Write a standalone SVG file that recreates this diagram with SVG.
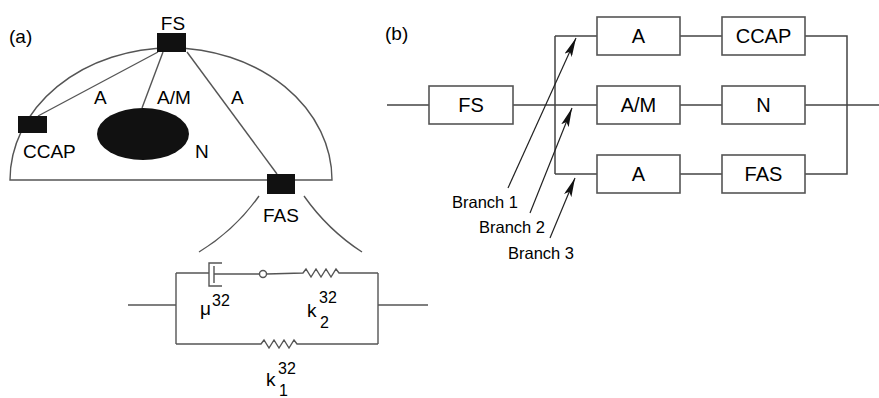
<svg xmlns="http://www.w3.org/2000/svg" width="879" height="398" viewBox="0 0 879 398">
<style>
text{font-family:"Liberation Sans",Arial,sans-serif;fill:#000}
.lab{font-size:19px}
.bl{font-size:20px}
.br{font-size:16.5px}
.sup{font-size:16px}
.w{fill:none;stroke:#555;stroke-width:1.4}
.wb{fill:none;stroke:#444;stroke-width:1.5}
.ar{fill:none;stroke:#222;stroke-width:1.2}
.box{fill:#fff;stroke:#555;stroke-width:1.6}
.blk{fill:#111}
</style>
<defs>
<marker id="ah" viewBox="0 0 19 8" refX="19" refY="4" markerWidth="19" markerHeight="8" markerUnits="userSpaceOnUse" orient="auto">
<path d="M0,0 L19,4 L0,8 L4,4 Z" fill="#111"/>
</marker>
</defs>
<rect width="879" height="398" fill="#fff"/>

<!-- Panel (a) -->
<text x="9" y="43" class="lab">(a)</text>
<g id="connectors-a">
<path class="w" d="M10,180 A161,132 0 0 1 332,180 Z"/>
<line class="w" x1="158" y1="52" x2="38" y2="116"/>
<line class="w" x1="163" y1="52" x2="142" y2="108"/>
<line class="w" x1="187" y1="52" x2="277" y2="174"/>
<path class="w" d="M259,196 Q235,230 199,252"/>
<path class="w" d="M304,196 Q328,230 362,252"/>
<text x="94" y="104" class="lab">A</text>
<text x="157" y="104" class="lab">A/M</text>
<text x="231" y="104" class="lab">A</text>
</g>
<g id="a-FS"><rect class="blk" x="157" y="33" width="29" height="19"/><text x="173" y="30" class="lab" text-anchor="middle">FS</text></g>
<g id="a-CCAP"><rect class="blk" x="18" y="116" width="29" height="17"/><text x="23" y="158" class="lab">CCAP</text></g>
<g id="a-N"><ellipse class="blk" cx="143" cy="134" rx="46" ry="26"/><text x="195" y="158" class="lab">N</text></g>
<g id="a-FAS"><rect class="blk" x="267" y="174" width="28" height="20"/><text x="281" y="222" class="lab" text-anchor="middle">FAS</text></g>

<!-- circuit -->
<g id="circuit">
<path class="w" d="M128,305 H176 M176,273 V344 M378,273 V344 M378,305 H428"/>
<path class="w" d="M176,273 H209 M222,263 H209 V286 H222 M214,266 V283 M214,274 H259.5"/>
<circle class="w" cx="263" cy="274" r="3.5"/>
<path class="w" d="M266.5,274 L303,273 l3,-4 l5,8 l5,-8 l5,8 l5,-8 l5,8 l5,-8 l3,4 H378"/>
<path class="w" d="M176,344 H261 l3,-4 l5,8 l5,-8 l5,8 l5,-8 l5,8 l5,-8 l3,4 H378"/>
<text x="200" y="315" class="lab">μ</text><text x="212" y="306" class="sup">32</text>
<text x="307" y="317" class="lab">k</text><text x="319" y="303" class="sup">32</text><text x="320" y="328" class="sup">2</text>
<text x="266" y="386" class="lab">k</text><text x="278" y="374" class="sup">32</text><text x="279" y="396" class="sup">1</text>
</g>

<!-- Panel (b) -->
<text x="385" y="40" class="lab">(b)</text>
<g id="connectors-b">
<path class="wb" d="M387,105 H429 M513,105 H597 M555,36 V174 M555,36 H597 M555,174 H597 M680,36 H722 M680,105 H722 M680,174 H722 M805,36 H847 V174 H805 M805,105 H879"/>
<line class="ar" x1="508" y1="188" x2="576" y2="38" marker-end="url(#ah)"/>
<line class="ar" x1="530" y1="213" x2="572" y2="108" marker-end="url(#ah)"/>
<line class="ar" x1="550" y1="238" x2="575" y2="178" marker-end="url(#ah)"/>
<text x="452" y="208" class="br">Branch 1</text>
<text x="479" y="233" class="br">Branch 2</text>
<text x="508" y="259" class="br">Branch 3</text>
</g>
<g id="b-FS"><rect class="box" x="429" y="86" width="84" height="38"/><text x="471" y="112" class="bl" text-anchor="middle">FS</text></g>
<g id="b-A1"><rect class="box" x="597" y="17" width="83" height="38"/><text x="638.5" y="43" class="bl" text-anchor="middle">A</text></g>
<g id="b-CCAP"><rect class="box" x="722" y="17" width="83" height="38"/><text x="763.5" y="43" class="bl" text-anchor="middle">CCAP</text></g>
<g id="b-AM"><rect class="box" x="597" y="86" width="83" height="38"/><text x="638.5" y="112" class="bl" text-anchor="middle">A/M</text></g>
<g id="b-N"><rect class="box" x="722" y="86" width="83" height="38"/><text x="763.5" y="112" class="bl" text-anchor="middle">N</text></g>
<g id="b-A2"><rect class="box" x="597" y="155" width="83" height="38"/><text x="638.5" y="181" class="bl" text-anchor="middle">A</text></g>
<g id="b-FAS"><rect class="box" x="722" y="155" width="83" height="38"/><text x="763.5" y="181" class="bl" text-anchor="middle">FAS</text></g>
</svg>
